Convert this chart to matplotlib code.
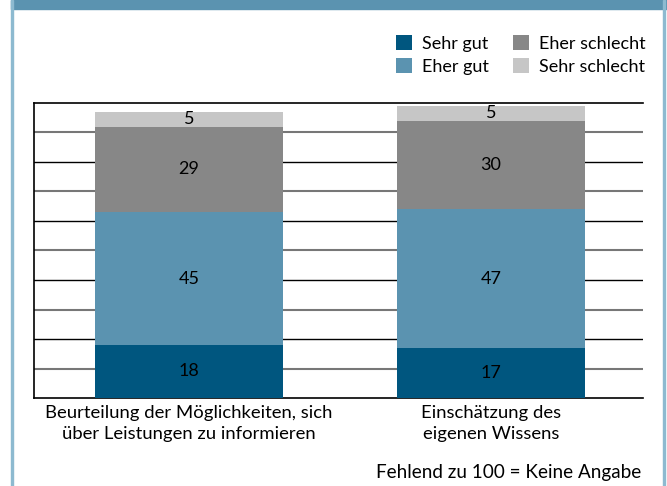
import matplotlib
matplotlib.use('Agg')
import matplotlib.pyplot as plt
import numpy as np
from matplotlib.patches import Rectangle

plt.rcParams['font.family'] = ['Lato', 'DejaVu Sans']

# --------- DATA ----------
categories = ['Beurteilung der Möglichkeiten, sich\nüber Leistungen zu informieren',
              'Einschätzung des\neigenen Wissens']
series = ['Sehr gut', 'Eher gut', 'Eher schlecht', 'Sehr schlecht']
sehr_gut = [18, 17]
eher_gut = [45, 47]
eher_schlecht = [29, 30]
sehr_schlecht = [5, 5]
note = 'Fehlend zu 100 = Keine Angabe'
# --------------------------

cols = ['#00567f', '#5b93b0', '#878787', '#c6c6c6']
W, H = 667, 486

fig = plt.figure(figsize=(W/100, H/100), dpi=100)
ax = fig.add_axes([34/W, (H-398)/H, 609/W, 295/H])

# frame around the graphic
fig.patches.append(Rectangle((11/W, (H-9)/H), 1-11/W, 9/H, transform=fig.transFigure,
                             color='#5b93b0', zorder=0))
fig.patches.append(Rectangle((10.5/W, 0), 2/W, 1, transform=fig.transFigure,
                             color='#8dbad0', zorder=0))
fig.patches.append(Rectangle((662.5/W, 0), 2/W, 1, transform=fig.transFigure,
                             color='#8dbad0', zorder=0))

x = np.arange(len(categories))
bottom = np.zeros(len(categories))
handles = []
for vals, name, c in zip([sehr_gut, eher_gut, eher_schlecht, sehr_schlecht], series, cols):
    b = ax.bar(x, vals, 0.62, bottom=bottom, color=c, label=name, zorder=3)
    handles.append(b)
    for xi, v, bo in zip(x, vals, bottom):
        ax.text(xi, bo + v/2, str(v), ha='center', va='center', fontsize=13,
                color='black', zorder=4)
    bottom = bottom + np.array(vals)

ax.set_xlim(-0.513, 1.503)
ax.set_ylim(0, 100)
for yv in range(10, 100, 10):
    if yv % 20 == 0:
        ax.axhline(yv, color='black', lw=1.0, zorder=1)
    else:
        ax.axhline(yv, color='#777777', lw=1.5, zorder=1)

ax.spines['right'].set_visible(False)
for s in ['top', 'bottom', 'left']:
    ax.spines[s].set_linewidth(1.2)
ax.set_yticks([])
ax.set_xticks(x)
ax.set_xticklabels(categories, fontsize=13.3, linespacing=1.4)
ax.tick_params(axis='x', length=0, pad=5)

fig.legend(handles, series, ncol=2, loc='upper left', bbox_to_anchor=(389/W, 1-28/H),
           frameon=False, fontsize=13, handlelength=0.9, handleheight=0.9,
           handletextpad=0.55, columnspacing=1.3, labelspacing=0.35, borderaxespad=0)

fig.text(641/W, 1-472/H, note, ha='right', va='center', fontsize=13.6)

fig.savefig('out.png', dpi=100)
